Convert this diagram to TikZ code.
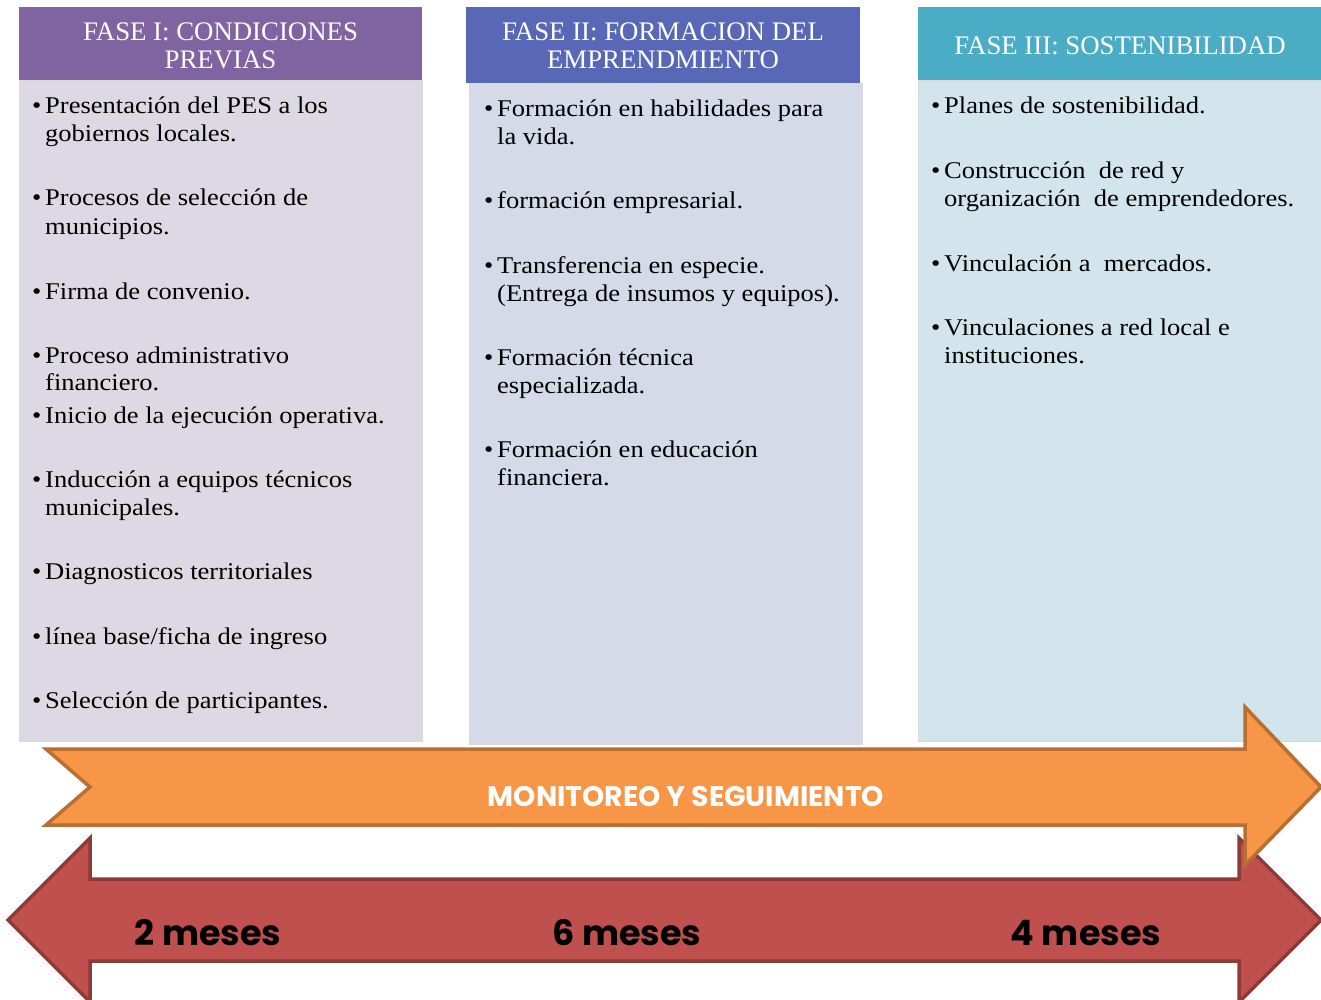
\documentclass[tikz,border=0pt]{standalone}
\usepackage{fontspec}
\setmainfont{Liberation Serif}
\newfontfamily\bodyfont[FakeStretch=1.105]{Liberation Serif}
\newfontfamily\gothic{Poppins}
\definecolor{hpurp}{HTML}{8064A2}
\definecolor{hblue}{HTML}{5867B6}
\definecolor{hteal}{HTML}{4BACC6}
\definecolor{bpurp}{HTML}{DCD9E5}
\definecolor{bblue}{HTML}{D5D9E8}
\definecolor{bteal}{HTML}{D3E5EC}
\definecolor{orfill}{HTML}{F79646}
\definecolor{ordraw}{HTML}{B86F32}
\definecolor{rdfill}{HTML}{C0504D}
\definecolor{rddraw}{HTML}{8E3A37}
\tikzset{
  hdrbox/.style={anchor=north west, inner sep=0pt},
  hdr/.style={inner sep=0pt, text=white, align=center,
    font=\fontsize{26.8}{28}\selectfont},
  bodybox/.style={anchor=north west, inner sep=0pt, draw=white!70!gray, line width=1.2pt},
  itm/.style={anchor=base west, inner sep=0pt, font=\bodyfont\fontsize{24}{28}\selectfont},
  bul/.style={anchor=base west, inner sep=0pt, font=\bodyfont\fontsize{24}{28}\selectfont},
  mon/.style={inner sep=0pt, text=white, font=\gothic\bfseries\fontsize{28.3}{30}\selectfont},
  mes/.style={inner sep=0pt, text=black, font=\gothic\bfseries\fontsize{35}{40}\selectfont},
}
\begin{document}
\begin{tikzpicture}[x=1pt,y=-1pt]
\useasboundingbox (0,0) rectangle (1321,1000);
\clip (0,0) rectangle (1321,1000);

% bodies
\node[bodybox, fill=bpurp, minimum width=403pt, minimum height=661pt] (b1) at (19,80) {};
\node[bodybox, fill=bblue, minimum width=393pt, minimum height=661pt] (b2) at (469,83) {};
\node[bodybox, fill=bteal, minimum width=405pt, minimum height=661pt] (b3) at (918,80) {};
% headers
\node[hdrbox, fill=hpurp, minimum width=403pt, minimum height=73pt] (h1) at (19,7) {};
\node[hdrbox, fill=hblue, minimum width=394pt, minimum height=76pt] (h2) at (466,7) {};
\node[hdrbox, fill=hteal, minimum width=405pt, minimum height=73pt] (h3) at (918,7) {};
\node[hdr] (h1t) at (220.5,46) {FASE I: CONDICIONES\\PREVIAS};
\node[hdr] (h2t) at (663,46) {FASE II: FORMACION DEL\\EMPRENDMIENTO};
\node[hdr] (h3t) at (1120,45.5) {FASE III: SOSTENIBILIDAD};

% column 1
\node[bul] (p1) at (32,114) {•}; \node[itm] (t1a) at (45,114) {Presentación del PES a los};
\node[itm] (t1b) at (45,142) {gobiernos locales.};
\node[bul] (p2) at (32,206) {•}; \node[itm] (t2a) at (45,206) {Procesos de selección de};
\node[itm] (t2b) at (45,234) {municipios.};
\node[bul] (p3) at (32,299) {•}; \node[itm] (t3a) at (45,299) {Firma de convenio.};
\node[bul] (p4) at (32,363) {•}; \node[itm] (t4a) at (45,363) {Proceso administrativo};
\node[itm] (t4b) at (45,390) {financiero.};
\node[bul] (p5) at (32,423) {•}; \node[itm] (t5a) at (45,423) {Inicio de la ejecución operativa.};
\node[bul] (p6) at (32,487) {•}; \node[itm] (t6a) at (45,487) {Inducción a equipos técnicos};
\node[itm] (t6b) at (45,515) {municipales.};
\node[bul] (p7) at (32,579) {•}; \node[itm] (t7a) at (45,579) {Diagnosticos territoriales};
\node[bul] (p8) at (32,644) {•}; \node[itm] (t8a) at (45,644) {línea base/ficha de ingreso};
\node[bul] (p9) at (32,708) {•}; \node[itm] (t9a) at (45,708) {Selección de participantes.};

% column 2
\node[bul] (q1) at (484,117) {•}; \node[itm] (s1a) at (497,117) {Formación en habilidades para};
\node[itm] (s1b) at (497,145) {la vida.};
\node[bul] (q2) at (484,209) {•}; \node[itm] (s2a) at (497,209) {formación empresarial.};
\node[bul] (q3) at (484,273) {•}; \node[itm] (s3a) at (497,273) {Transferencia en especie.};
\node[itm] (s3b) at (497,301) {(Entrega de insumos y equipos).};
\node[bul] (q4) at (484,365) {•}; \node[itm] (s4a) at (497,365) {Formación técnica};
\node[itm] (s4b) at (497,393) {especializada.};
\node[bul] (q5) at (484,457) {•}; \node[itm] (s5a) at (497,457) {Formación en educación};
\node[itm] (s5b) at (497,485) {financiera.};

% column 3
\node[bul] (r1) at (931,114) {•}; \node[itm] (u1a) at (944,114) {Planes de sostenibilidad.};
\node[bul] (r2) at (931,179) {•}; \node[itm] (u2a) at (944,179) {Construcción\ \ de red y};
\node[itm] (u2b) at (944,207) {organización\ \ de emprendedores.};
\node[bul] (r3) at (931,271) {•}; \node[itm] (u3a) at (944,271) {Vinculación a\ \ mercados.};
\node[bul] (r4) at (931,335) {•}; \node[itm] (u4a) at (944,335) {Vinculaciones a red local e};
\node[itm] (u4b) at (944,363) {instituciones.};

% red double arrow
\draw[fill=rdfill, draw=rddraw, line width=3.5pt, line join=miter]
  (8,920) -- (90,838) -- (90,879) -- (1239,879) -- (1239,838) -- (1321,920)
  -- (1239,1002) -- (1239,961) -- (90,961) -- (90,1002) -- cycle;
% orange notched arrow
\draw[fill=orfill, draw=ordraw, line width=3.5pt, line join=miter]
  (46,749) -- (1245,749) -- (1245,707) -- (1321,787) -- (1245,865)
  -- (1245,825) -- (46,825) -- (90,787) -- cycle;

\node[mon] (mt) at (686,797) {MONITOREO Y SEGUIMIENTO};
\node[mes] (m2) at (208,933) {2 meses};
\node[mes] (m6) at (627,933) {6 meses};
\node[mes] (m4) at (1086,933) {4 meses};
\end{tikzpicture}
\end{document}
